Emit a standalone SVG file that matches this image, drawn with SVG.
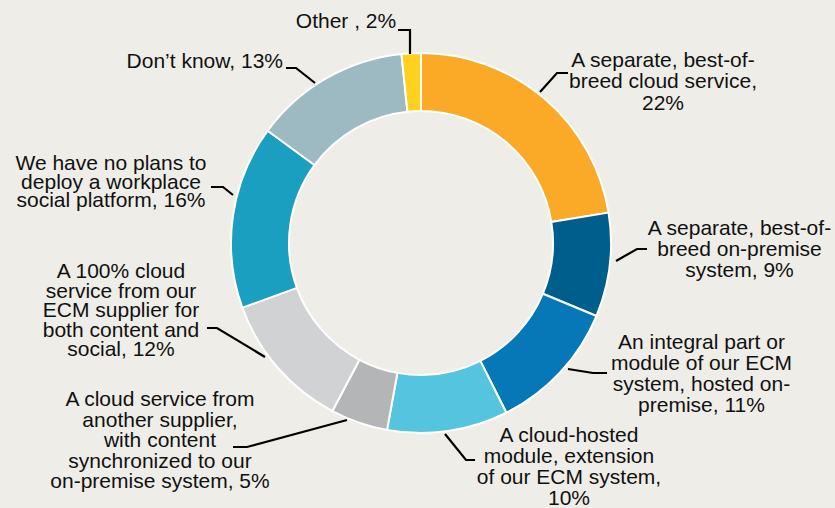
<svg xmlns="http://www.w3.org/2000/svg" width="835" height="508" viewBox="0 0 835 508">
<style>
.s{stroke:#FFFFFF;stroke-width:2;stroke-linejoin:round}
.t{font-family:"Liberation Sans",Arial,sans-serif;font-size:21px;fill:#111111;text-anchor:middle}
.l{fill:none;stroke:#000000;stroke-width:2.2}
</style>
<rect width="835" height="508" fill="#EEEDE7"/>
<g id="donut">
<g id="slice-cloud-service"><path class="s" fill="#FBAA27" d="M421,53 A190,190 0 0 1 608.56,212.62 L551.30,221.90 A132,132 0 0 0 421,111 Z"/></g>
<g id="slice-onpremise"><path class="s" fill="#005E8D" d="M608.56,212.62 A190,190 0 0 1 596.41,316.02 L542.86,293.73 A132,132 0 0 0 551.30,221.90 Z"/></g>
<g id="slice-integral"><path class="s" fill="#0678B7" d="M596.41,316.02 A190,190 0 0 1 506.37,412.74 L480.31,360.92 A132,132 0 0 0 542.86,293.73 Z"/></g>
<g id="slice-cloud-hosted"><path class="s" fill="#55C5DF" d="M506.37,412.74 A190,190 0 0 1 387.03,429.94 L397.40,372.87 A132,132 0 0 0 480.31,360.92 Z"/></g>
<g id="slice-another-supplier"><path class="s" fill="#B4B5B7" d="M387.03,429.94 A190,190 0 0 1 332.39,411.07 L359.44,359.76 A132,132 0 0 0 397.40,372.87 Z"/></g>
<g id="slice-100-cloud"><path class="s" fill="#D1D2D4" d="M332.39,411.07 A190,190 0 0 1 242.34,307.67 L296.88,287.93 A132,132 0 0 0 359.44,359.76 Z"/></g>
<g id="slice-no-plans"><path class="s" fill="#1A9FC0" d="M242.34,307.67 A190,190 0 0 1 267.68,130.78 L314.48,165.04 A132,132 0 0 0 296.88,287.93 Z"/></g>
<g id="slice-dont-know"><path class="s" fill="#9DBAC3" d="M267.68,130.78 A190,190 0 0 1 401.47,54.01 L407.43,111.70 A132,132 0 0 0 314.48,165.04 Z"/></g>
<g id="slice-other"><path class="s" fill="#FED11E" d="M401.47,54.01 A190,190 0 0 1 421,53 L421,111 A132,132 0 0 0 407.43,111.70 Z"/></g>
</g>
<g id="connectors">
<polyline class="l" points="398,30 410,30 410,54"/>
<polyline class="l" points="286,68 296,68 315,83"/>
<polyline class="l" points="211,187 223,187 233,195"/>
<polyline class="l" points="568,73 557,73 540,92"/>
<polyline class="l" points="647,249 637,249 616,261"/>
<polyline class="l" points="568,369 593,373 607,373"/>
<polyline class="l" points="445,434 466,460 475,460"/>
<polyline class="l" points="347,420 247,447 233,447"/>
<polyline class="l" points="207,328 217,328 265,357"/>
</g>
<g id="label-cloud-service"><text class="t" x="663" y="66.5">A separate, best-of-</text><text class="t" x="663" y="88">breed cloud service,</text><text class="t" x="663" y="109.5">22%</text></g>
<g id="label-onpremise"><text class="t" x="739.5" y="234.5">A separate, best-of-</text><text class="t" x="739.5" y="255.5">breed on-premise</text><text class="t" x="739.5" y="276.5">system, 9%</text></g>
<g id="label-integral"><text class="t" x="701.5" y="348.5">An integral part or</text><text class="t" x="701.5" y="369.5">module of our ECM</text><text class="t" x="701.5" y="390.5">system, hosted on-</text><text class="t" x="701.5" y="411.5">premise, 11%</text></g>
<g id="label-cloud-hosted"><text class="t" x="569" y="441.5">A cloud-hosted</text><text class="t" x="569" y="462.5">module, extension</text><text class="t" x="569" y="483.5">of our ECM system,</text><text class="t" x="569" y="504.5">10%</text></g>
<g id="label-another-supplier"><text class="t" x="160" y="406">A cloud service from</text><text class="t" x="160" y="426.5">another supplier,</text><text class="t" x="160" y="447">with content</text><text class="t" x="160" y="467.5">synchronized to our</text><text class="t" x="160" y="488">on-premise system, 5%</text></g>
<g id="label-100-cloud"><text class="t" x="121" y="278">A 100% cloud</text><text class="t" x="121" y="297.5">service from our</text><text class="t" x="121" y="317">ECM supplier for</text><text class="t" x="121" y="336.5">both content and</text><text class="t" x="121" y="356">social, 12%</text></g>
<g id="label-no-plans"><text class="t" x="111" y="170">We have no plans to</text><text class="t" x="111" y="188.5">deploy a workplace</text><text class="t" x="111" y="207">social platform, 16%</text></g>
<g id="label-dont-know"><text class="t" x="283" y="68" style="text-anchor:end">Don’t know, 13%</text></g>
<g id="label-other"><text class="t" x="346" y="28">Other , 2%</text></g>
</svg>
